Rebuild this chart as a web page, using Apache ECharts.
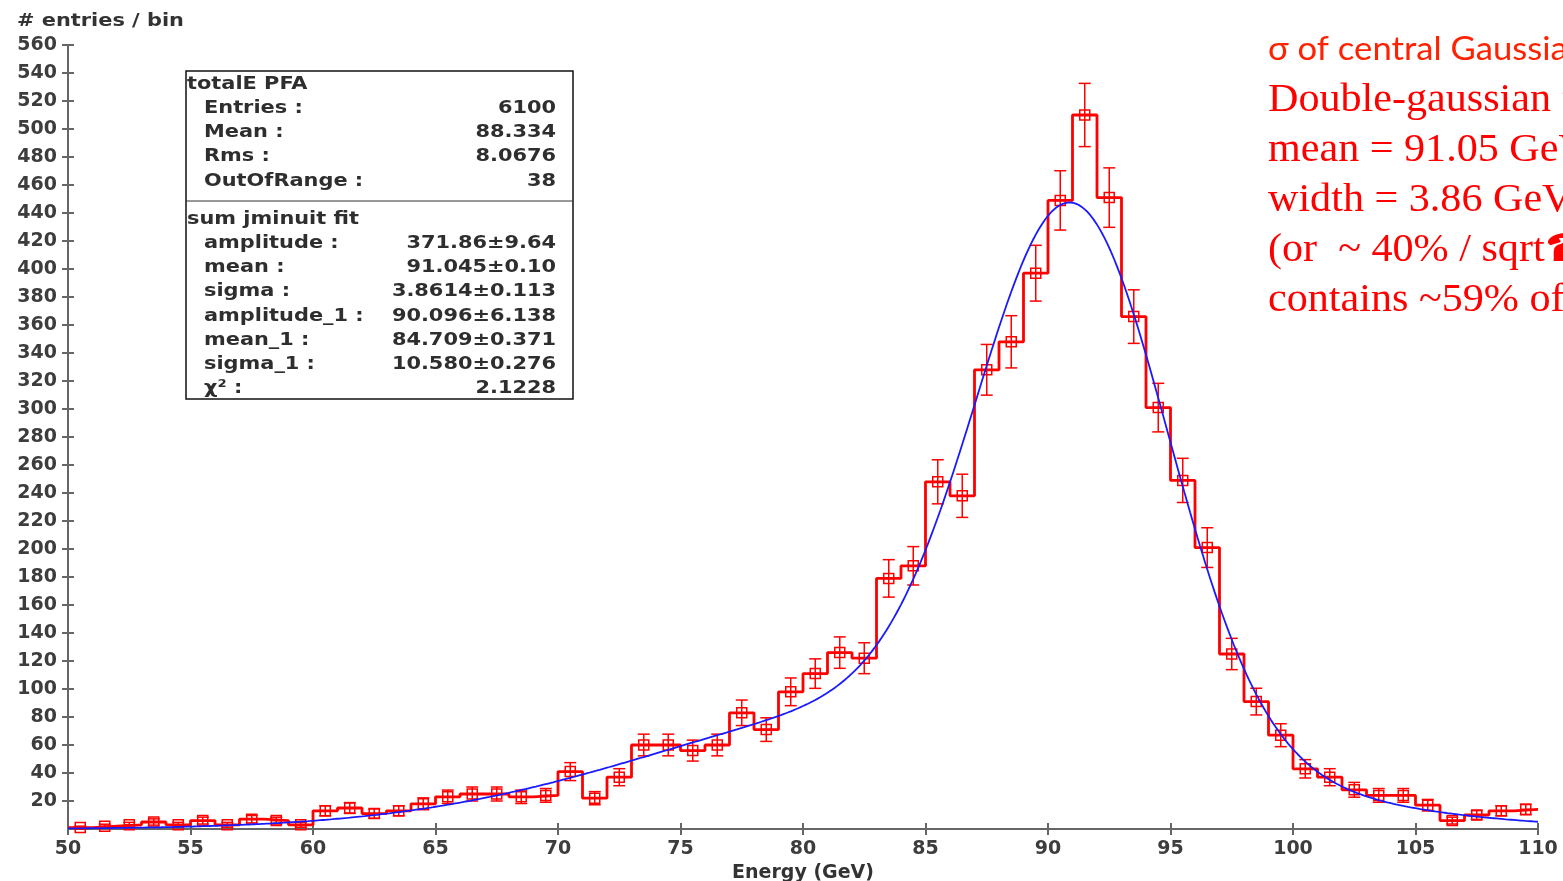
<!DOCTYPE html>
<html>
<head>
<meta charset="utf-8">
<script src="https://cdn.jsdelivr.net/npm/echarts@6/dist/echarts.min.js"></script>
<style>
  html, body { margin: 0; padding: 0; background: #ffffff; }
  #chart { width: 1563px; height: 881px; }
</style>
</head>
<body>
<div id="chart"></div>
<script>
// Histogram binning: 60 bins of 1 GeV from 50 to 110
const binStart = 50;
const binWidth = 1;
const counts = [
  1, 2, 3, 5, 3, 6, 3, 7, 6, 3,
  13, 15, 11, 13, 18, 23, 25, 25, 23, 24,
  41, 22, 37, 60, 60, 56, 60, 83, 71, 98,
  111, 126, 122, 179, 188, 248, 238, 328, 348, 397,
  449, 510, 451, 366, 301, 249, 201, 125, 91, 67,
  43, 37, 28, 24, 24, 17, 6, 10, 13, 14
];

// Axis ranges
const xMin = 50, xMax = 110, xStep = 5;
const yMin = 0, yMax = 560, yStep = 20;

// Histogram statistics box
const histTitle = 'totalE PFA';
const statLabels = ['Entries :', 'Mean :', 'Rms :', 'OutOfRange :'];
const statValues = ['6100', '88.334', '8.0676', '38'];

// Double-gaussian fit results
const fitTitle = 'sum jminuit fit';
const fitLabels = ['amplitude :', 'mean :', 'sigma :', 'amplitude_1 :', 'mean_1 :', 'sigma_1 :', 'χ² :'];
const fitValues = ['371.86', '91.045', '3.8614', '90.096', '84.709', '10.580', '2.1228'];
const fitErrors = ['9.64', '0.10', '0.113', '6.138', '0.371', '0.276', ''];

// Notes on the right
const noteHeading = 'σ of central Gaussian';
const noteLines = [
  'Double-gaussian fit',
  'mean = 91.05 GeV',
  'width = 3.86 GeV',
  '(or  ~ 40% / sqrt☎',
  'contains ~59% of events'
];

// ---- derived series ----
const binEdgeEnd = binStart + counts.length * binWidth;
const stepData = counts.map((v, i) => [binStart + i * binWidth, v]);
stepData.push([binEdgeEnd, counts[counts.length - 1]]);

const pointData = counts.map((v, i) => [binStart + (i + 0.5) * binWidth, v, Math.sqrt(v)]);

const p = fitValues.map(parseFloat);
const [amp0, mean0, sig0, amp1, mean1, sig1] = p;
function fitFn(x) {
  return amp0 * Math.exp(-0.5 * Math.pow((x - mean0) / sig0, 2)) +
         amp1 * Math.exp(-0.5 * Math.pow((x - mean1) / sig1, 2));
}
const curveData = [];
for (let k = 0; k <= 600; k++) {
  const x = xMin + k * (xMax - xMin) / 600;
  curveData.push([x, fitFn(x)]);
}

// ---- styling ----
const axisGrey = '#666666';
const labelGrey = '#3d3d3d';
const boldFont = 'bold 18px "DejaVu Sans"';
const stretch = 1.16;

function txt(x, y, text, align, font, fill, sx) {
  return {
    type: 'text', x: x, y: y, scaleX: sx || stretch,
    style: { text: text, font: font || boldFont, fill: fill || '#2e2e2e',
             align: align || 'left', verticalAlign: 'middle' },
    z: 110
  };
}

const graphics = [];
// y axis title
graphics.push(txt(17, 21, '# entries / bin', 'left', boldFont, '#333333'));

// statistics box
const box = { x: 186, y: 71, w: 387, h: 328, split: 201 };
graphics.push({
  type: 'rect', z: 100,
  shape: { x: box.x, y: box.y, width: box.w, height: box.h },
  style: { fill: '#ffffff', stroke: '#111111', lineWidth: 1.5 }
});
graphics.push({
  type: 'line', z: 101,
  shape: { x1: box.x, y1: box.split, x2: box.x + box.w, y2: box.split },
  style: { stroke: '#333333', lineWidth: 1.2 }
});
const rowH = 24.3;
graphics.push(txt(187, 84, histTitle));
statLabels.forEach((s, i) => {
  graphics.push(txt(204, 108 + i * rowH, s));
  graphics.push(txt(556, 108 + i * rowH, statValues[i], 'right'));
});
graphics.push(txt(187, 219, fitTitle));
fitLabels.forEach((s, i) => {
  const val = fitErrors[i] ? fitValues[i] + '±' + fitErrors[i] : fitValues[i];
  graphics.push(txt(204, 243 + i * rowH, s));
  graphics.push(txt(556, 243 + i * rowH, val, 'right'));
});

// notes
graphics.push(txt(1268, 49, noteHeading, 'left', '33px Lato', '#ff2200', 1.05));
noteLines.forEach((s, i) => {
  graphics.push(txt(1268, 101 + i * 50, s, 'left', '39px "Liberation Serif"', '#ff0000', 1.08));
});

const chart = echarts.init(document.getElementById('chart'), null, { renderer: 'canvas' });

const baseX = {
  type: 'value', min: xMin, max: xMax, interval: xStep, position: 'bottom',
  splitLine: { show: false }
};
const baseY = {
  type: 'value', min: yMin, max: yMax, interval: yStep, position: 'left',
  splitLine: { show: false }
};

chart.setOption({
  animation: false,
  backgroundColor: '#ffffff',
  grid: { left: 68, right: 25, top: 45, bottom: 52, containLabel: false, outerBoundsMode: 'none' },
  xAxis: [
    Object.assign({}, baseX, {
      axisLine: { lineStyle: { color: axisGrey, width: 2 } },
      axisTick: { inside: false, length: 6, lineStyle: { color: axisGrey, width: 2 } },
      axisLabel: { fontFamily: 'DejaVu Sans', fontWeight: 'bold', fontSize: 19,
                   color: labelGrey, margin: 11, showMinLabel: true, showMaxLabel: true },
      name: 'Energy (GeV)', nameLocation: 'middle', nameGap: 35,
      nameTextStyle: { fontFamily: 'DejaVu Sans', fontWeight: 'bold', fontSize: 19, color: '#333333' }
    }),
    Object.assign({}, baseX, {
      axisLine: { show: false },
      axisTick: { inside: true, length: 6, lineStyle: { color: axisGrey, width: 2 } },
      axisLabel: { show: false }
    })
  ],
  yAxis: [
    Object.assign({}, baseY, {
      axisLine: { show: true, lineStyle: { color: axisGrey, width: 2 } },
      axisTick: { show: true, inside: false, length: 6, lineStyle: { color: axisGrey, width: 2 } },
      axisLabel: { fontFamily: 'DejaVu Sans', fontWeight: 'bold', fontSize: 19,
                   color: labelGrey, margin: 11, showMinLabel: false }
    }),
    Object.assign({}, baseY, {
      axisLine: { show: false },
      axisTick: { show: true, inside: true, length: 6, lineStyle: { color: axisGrey, width: 2 } },
      axisLabel: { show: false }
    })
  ],
  series: [
    {
      name: 'histogram', type: 'line', xAxisIndex: 0, yAxisIndex: 0,
      data: stepData, step: 'end', symbol: 'none',
      lineStyle: { color: '#ff0000', width: 2.8 }, z: 3, clip: false
    },
    {
      name: 'points', type: 'custom', xAxisIndex: 0, yAxisIndex: 0,
      data: pointData, z: 4, clip: false,
      renderItem: function (params, api) {
        const x = api.value(0), v = api.value(1), e = api.value(2);
        const c = api.coord([x, v]);
        const top = api.coord([x, v + e])[1];
        const bot = api.coord([x, v - e])[1];
        const s = 5, cap = 6;
        const st = { stroke: '#ff0000', lineWidth: 1.5, fill: null };
        return {
          type: 'group',
          children: [
            { type: 'line', shape: { x1: c[0], y1: top, x2: c[0], y2: bot }, style: st },
            { type: 'line', shape: { x1: c[0] - cap, y1: top, x2: c[0] + cap, y2: top }, style: st },
            { type: 'line', shape: { x1: c[0] - cap, y1: bot, x2: c[0] + cap, y2: bot }, style: st },
            { type: 'rect', shape: { x: c[0] - s, y: c[1] - s, width: 2 * s, height: 2 * s }, style: st },
            { type: 'line', shape: { x1: c[0] - s, y1: c[1], x2: c[0] + s, y2: c[1] }, style: st }
          ]
        };
      }
    },
    {
      name: 'fit', type: 'line', xAxisIndex: 0, yAxisIndex: 0,
      data: curveData, symbol: 'none', smooth: false,
      lineStyle: { color: '#1a1aff', width: 1.8 }, z: 5
    }
  ],
  graphic: graphics
});
</script>
</body>
</html>
